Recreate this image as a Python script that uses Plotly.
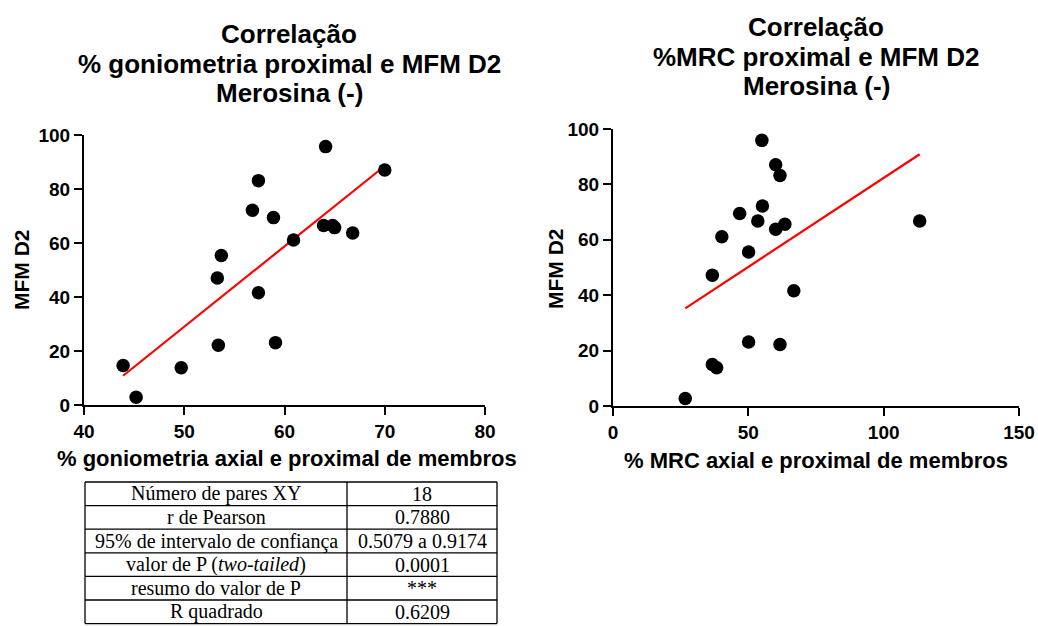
import numpy as np
import plotly.graph_objects as go

# ---------------- data ----------------
gonio_x = [43.9, 45.2, 49.7, 53.4, 53.3, 53.7, 56.8, 57.4, 57.4, 58.9, 59.1, 60.9,
           64.1, 63.9, 64.8, 65.0, 66.8, 70.0]
gonio_y = [14.6, 2.9, 13.8, 22.1, 47.0, 55.4, 72.1, 83.1, 41.6, 69.4, 23.1, 61.1,
           95.7, 66.5, 66.5, 65.7, 63.7, 87.0]

mrc_x = [26.7, 36.7, 38.3, 36.7, 40.2, 46.8, 50.1, 50.1, 53.5, 55.0, 55.2, 60.1,
         61.7, 60.1, 63.5, 61.7, 66.8, 113.3]
mrc_y = [2.7, 15.0, 13.8, 47.2, 61.1, 69.5, 55.6, 23.1, 66.8, 95.9, 72.2, 87.1,
         83.2, 63.8, 65.6, 22.2, 41.6, 66.8]

left_title = ["Correlação", "% goniometria proximal e MFM D2", "Merosina (-)"]
right_title = ["Correlação", "%MRC proximal e MFM D2", "Merosina (-)"]
left_xlabel = "% goniometria axial e proximal de membros"
right_xlabel = "% MRC axial e proximal de membros"
ylabel = "MFM D2"

left_xticks = [40, 50, 60, 70, 80]
right_xticks = [0, 50, 100, 150]
yticks = [0, 20, 40, 60, 80, 100]

stat_labels = ["Número de pares XY", "r de Pearson", "95% de intervalo de confiança",
               "valor de P (<i>two-tailed</i>)", "resumo do valor de P", "R quadrado"]
stat_values = ["18", "0.7880", "0.5079 a 0.9174", "0.0001", "***", "0.6209"]

# ---------------- helpers ----------------
W, H = 1038, 626
def px(x):
    return x / W
def py(y):
    return 1 - y / H

def fit_line(xs, ys):
    xs = np.asarray(xs); ys = np.asarray(ys)
    m, b = np.polyfit(xs, ys, 1)
    lx = np.array([xs.min(), xs.max()])
    return lx, m * lx + b

SANS = "Liberation Sans"
SERIF = "Liberation Serif"

fig = go.Figure()

for xs, ys, xa, ya in [(gonio_x, gonio_y, "x", "y"), (mrc_x, mrc_y, "x2", "y2")]:
    lx, ly = fit_line(xs, ys)
    fig.add_trace(go.Scatter(x=lx, y=ly, mode="lines", xaxis=xa, yaxis=ya,
                             line=dict(color="#ff0000", width=2.2), showlegend=False,
                             hoverinfo="skip"))
    fig.add_trace(go.Scatter(x=xs, y=ys, mode="markers", xaxis=xa, yaxis=ya,
                             marker=dict(color="black", size=13.5, line=dict(width=0)),
                             showlegend=False, cliponaxis=False))

axis_common = dict(showgrid=False, zeroline=False, showline=True, linecolor="black",
                   linewidth=2.2, ticks="outside", ticklen=8, tickwidth=2.2,
                   tickcolor="black", automargin=False,
                   tickfont=dict(family=SANS, size=19, color="black", weight="bold"))

fig.update_layout(
    template="none",
    width=W, height=H, margin=dict(l=0, r=0, t=0, b=0, autoexpand=False),
    paper_bgcolor="white", plot_bgcolor="white", showlegend=False,
    xaxis=dict(domain=[px(84), px(485)], range=[40, 80], tickvals=left_xticks,
               anchor="y", **axis_common),
    yaxis=dict(domain=[py(405), py(135)], range=[0, 100], tickvals=yticks,
               anchor="x", **axis_common),
    xaxis2=dict(domain=[px(613), px(1019)], range=[0, 150], tickvals=right_xticks,
                anchor="y2", **axis_common),
    yaxis2=dict(domain=[py(406), py(129)], range=[0, 100], tickvals=yticks,
                anchor="x2", **axis_common),
)

ann = []
title_font = dict(family=SANS, size=26, color="black", weight="bold")
for i, line in enumerate(left_title):
    ann.append(dict(text=line, x=px(289), y=py(34 + 29.7 * i), xref="paper", yref="paper",
                    showarrow=False, xanchor="center", yanchor="middle", font=title_font))
for i, line in enumerate(right_title):
    ann.append(dict(text=line, x=px(816), y=py(27 + 29.7 * i), xref="paper", yref="paper",
                    showarrow=False, xanchor="center", yanchor="middle", font=title_font))

lab_font = dict(family=SANS, size=22, color="black", weight="bold")
ann.append(dict(text=left_xlabel, x=px(287), y=py(458), xref="paper", yref="paper",
                showarrow=False, xanchor="center", yanchor="middle", font=lab_font))
ann.append(dict(text=right_xlabel, x=px(816), y=py(460), xref="paper", yref="paper",
                showarrow=False, xanchor="center", yanchor="middle", font=lab_font))
ylab_font = dict(family=SANS, size=21, color="black", weight="bold")
ann.append(dict(text=ylabel, x=px(22), y=py(270), xref="paper", yref="paper",
                showarrow=False, textangle=-90, xanchor="center", yanchor="middle",
                font=ylab_font))
ann.append(dict(text=ylabel, x=px(555), y=py(269), xref="paper", yref="paper",
                showarrow=False, textangle=-90, xanchor="center", yanchor="middle",
                font=ylab_font))

# ---------------- table ----------------
row_h = 23.6
row_tops = [482 + row_h * k for k in range(7)]
col_x = [85, 347, 497]
shapes = []
for yv in row_tops:
    shapes.append(dict(type="line", xref="paper", yref="paper", x0=px(col_x[0]), x1=px(col_x[2]),
                       y0=py(yv), y1=py(yv), line=dict(color="black", width=1.3)))
for xv in col_x:
    shapes.append(dict(type="line", xref="paper", yref="paper", x0=px(xv), x1=px(xv),
                       y0=py(row_tops[0]), y1=py(row_tops[-1]), line=dict(color="black", width=1.3)))

tab_font = dict(family=SERIF, size=20, color="black")
for i, (lab, val) in enumerate(zip(stat_labels, stat_values)):
    yc = (row_tops[i] + row_tops[i + 1]) / 2
    ann.append(dict(text=lab, x=px((col_x[0] + col_x[1]) / 2), y=py(yc), xref="paper",
                    yref="paper", showarrow=False, xanchor="center", yanchor="middle",
                    font=tab_font))
    ann.append(dict(text=val, x=px((col_x[1] + col_x[2]) / 2), y=py(yc), xref="paper",
                    yref="paper", showarrow=False, xanchor="center", yanchor="middle",
                    font=tab_font))

fig.update_layout(annotations=ann, shapes=shapes)
fig.write_html("out.html")
